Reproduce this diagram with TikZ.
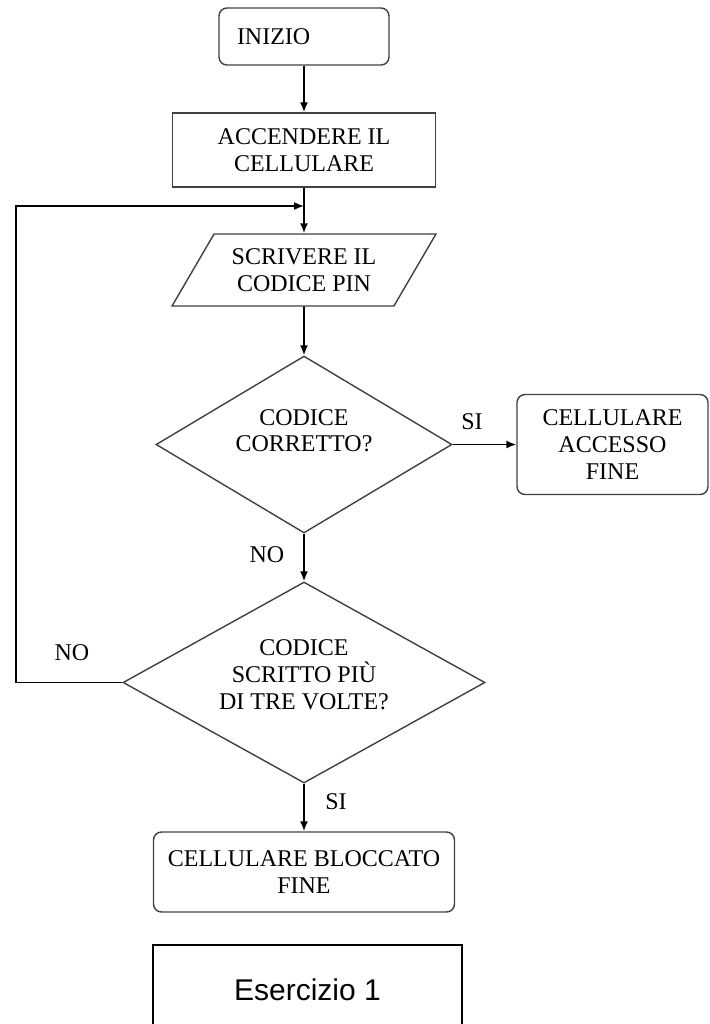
\documentclass[tikz,border=0pt]{standalone}
\usepackage{fontspec}
\setmainfont{Liberation Serif}
\newfontfamily\arialfont{Liberation Sans}
\usetikzlibrary{shapes.geometric,arrows.meta}
\tikzset{
  blocco/.style={draw=black!75,line width=0.7pt,align=center,inner sep=2pt,font=\fontsize{12}{13.4}\selectfont},
  termine/.style={blocco,rounded corners=4pt},
  dati/.style={blocco,trapezium,trapezium left angle=55,trapezium right angle=125,trapezium stretches=true},
  scelta/.style={blocco,diamond,inner sep=0pt},
  freccia/.style={->,line width=0.8pt},
  etichetta/.style={font=\fontsize{12}{13.4}\selectfont}
}
\begin{document}
\begin{tikzpicture}[x=0.5pt,y=-0.5pt,>={Latex[length=5pt,width=4pt]}]
          \useasboundingbox (0,0) rectangle (709,1024);
          \clip (0,0) rectangle (709,1024);
          \node[termine,minimum width=85pt,minimum height=28.5pt,text width=67pt,align=left,inner xsep=9pt] (inizio) at (304,36.5) {INIZIO};
          \node[blocco,minimum width=131.5pt,minimum height=37pt] (accendi) at (304,150) {ACCENDERE IL\\CELLULARE};
          \node[dati,minimum width=132pt,minimum height=36pt] (pin) at (304,270) {SCRIVERE IL\\CODICE PIN};
          \node[scelta,aspect=1.67,minimum width=148pt,minimum height=88.5pt,text depth=14pt] (corretto) at (304,444.5) {CODICE\\CORRETTO?};
          \node[termine,minimum width=95.5pt,minimum height=50pt] (accesso) at (612.5,444.5) {CELLULARE\\ACCESSO\\FINE};
          \node[scelta,aspect=1.8,minimum width=181pt,minimum height=100.5pt,text depth=8pt] (tentativi) at (304,682.5) {CODICE\\SCRITTO PIÙ\\DI TRE VOLTE?};
          \node[termine,minimum width=150.5pt,minimum height=40pt] (bloccato) at (304,872) {CELLULARE BLOCCATO\\FINE};
          \node[draw,line width=0.8pt,minimum width=154.5pt,minimum height=45pt,font=\arialfont\fontsize{15}{18}\selectfont] (esercizio) at (307.5,990) {Esercizio 1};
          % frecce
          \coordinate (rientro) at (304,206);
          \coordinate (sinistra) at (16,682.5);
          \draw[freccia] (inizio) -- (accendi);
          \draw[freccia] (accendi) -- (pin);
          \draw[freccia] (tentativi.west) -- (sinistra) |- (rientro);
          \draw[freccia] (pin) -- (corretto);
          \draw[freccia] (corretto.east) -- (accesso.west);
          \draw[freccia] (corretto) -- (tentativi);
          \draw[freccia] (tentativi) -- (bloccato);
          \node[etichetta] (si1) at (472,422) {SI};
          \node[etichetta] (no1) at (267,555) {NO};
          \node[etichetta] (no2) at (72,653) {NO};
          \node[etichetta] (si2) at (336,802) {SI};
      \end{tikzpicture}
\end{document}
